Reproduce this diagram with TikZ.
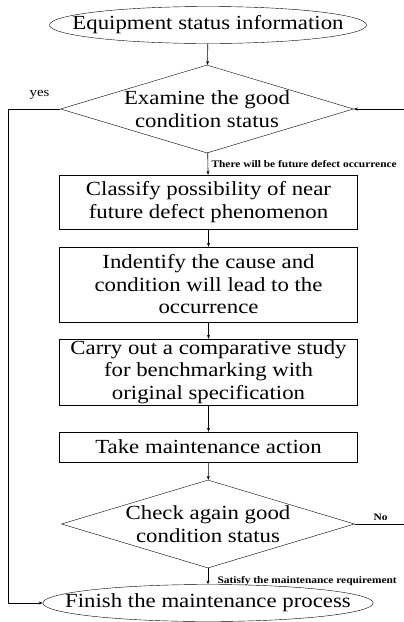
\documentclass[tikz,border=0pt]{standalone}
\usepackage{fontspec}
\setmainfont{Liberation Serif}[FakeStretch=1.14]
\usetikzlibrary{shapes.geometric,arrows.meta}

\begin{document}
\begin{tikzpicture}[x=1pt,y=-1pt,
    every node/.style={font=\fontsize{20}{22.5}\selectfont, align=center},
    terminal/.style={draw, ellipse, inner xsep=-26pt, inner ysep=0pt, minimum width=317pt, minimum height=37pt},
    decision/.style={draw, diamond, aspect=3.33, inner sep=-4pt, minimum width=293pt, minimum height=88pt},
    process/.style={draw, rectangle, inner sep=0pt, minimum width=298pt},
    flow/.style={-{Stealth[length=4pt,width=3pt]}, line width=0.6pt},
    note/.style={font=\fontsize{10}{12}\selectfont\bfseries}]
    \useasboundingbox (0,0) rectangle (404,622);

    \node[terminal] (start) at (208,25) {Equipment status information};
    \node[decision] (exam) at (207,109) {Examine the good\\condition status};
    \node[process, minimum height=54pt] (classify) at (208.5,202) {Classify possibility of near\\future defect phenomenon};
    \node[process, minimum height=75pt] (identify) at (208.5,284.5) {Indentify the cause and\\condition will lead to the\\occurrence};
    \node[process, minimum height=66pt] (carry) at (208.5,372) {Carry out a comparative study\\for benchmarking with\\original specification};
    \node[process, minimum height=30pt] (take) at (208.5,447) {Take maintenance action};
    \node[decision] (check) at (208,524) {Check again good\\condition status};
    \node[terminal] (finish) at (208,603) {Finish the maintenance process};

    \draw[flow] (start) -- (exam);
    \draw[flow] (exam) -- node[note, right] {There will be future defect occurrence} (classify);
    \draw[flow] (classify) -- (identify);
    \draw[flow] (identify) -- (carry);
    \draw[flow] (carry) -- (take);
    \draw[flow] (take) -- (check);
    \draw[flow] (check) -- node[note, right, pos=0.8, xshift=6pt] {Satisfy the maintenance requirement} (finish);
    \draw[flow] (check.east) -- node[note, above, pos=0.43] {No} ++(60,0) |- (exam.east);
    \draw[flow] (exam.west) -- node[above, pos=0.4, yshift=6pt, font=\fontsize{13}{15}\selectfont] {yes} ++(-52,0) |- (finish.west);
\end{tikzpicture}
\end{document}
